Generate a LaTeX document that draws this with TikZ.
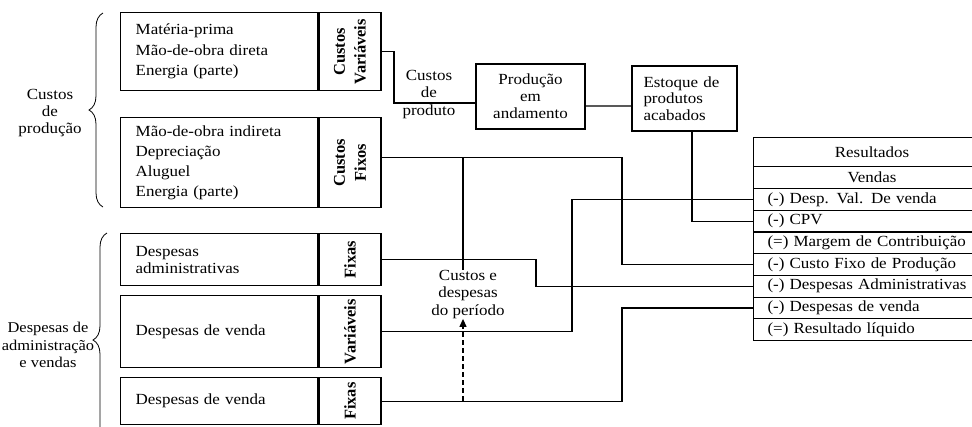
\documentclass[tikz,border=0pt]{standalone}
\usepackage{fontspec}
\setmainfont{Liberation Serif}[FakeStretch=1.1]
\newfontfamily\rotfont{Liberation Serif}
\usetikzlibrary{decorations.pathreplacing,arrows.meta,calc}
\begin{document}
\begin{tikzpicture}[x=1bp,y=-1bp,
  every node/.style={font=\fontsize{15.5}{20}\selectfont, inner sep=0pt},
  box/.style={draw, line width=1.3bp, anchor=north west},
  txtbox/.style={box, text width=167bp, inner xsep=15bp, align=left},
  colbox/.style={box, minimum width=62bp},
  vlab/.style={rotate=90, align=center, font=\rotfont\bfseries\fontsize{16.5}{21}\selectfont},
  lbl/.style={align=center, font=\fontsize{15.5}{17.5}\selectfont},
  row/.style={draw, line width=1.1bp, anchor=north west, minimum width=237bp, text width=209bp, inner xsep=14bp, minimum height=21.7bp, align=left},
  crow/.style={row, align=center},
  conn/.style={line width=1.2bp},
  br/.style={decorate, decoration={brace, amplitude=14bp}, line width=0.8bp}
]
\useasboundingbox (0,0) rectangle (972,426);
\clip (0,0) rectangle (972,426);

% production cost boxes
\node[txtbox, minimum height=78bp, font=\fontsize{15.5}{20.5}\selectfont] (b1) at (120,12) {Matéria-prima\\Mão-de-obra direta\\Energia (parte)};
\node[colbox, minimum height=78bp] (b1c) at (b1.north east) {};
\node[vlab] (v1) at (b1c) {Custos\\Variáveis};

\node[txtbox, minimum height=90bp] (b2) at (120,117) {Mão-de-obra indireta\\Depreciação\\Aluguel\\Energia (parte)};
\node[colbox, minimum height=90bp] (b2c) at (b2.north east) {};
\node[vlab] (v2) at (b2c) {Custos\\Fixos};

% expense boxes
\node[txtbox, minimum height=52bp, font=\fontsize{15.5}{17}\selectfont] (b3) at (120,233) {Despesas\\administrativas};
\node[colbox, minimum height=52bp] (b3c) at (b3.north east) {};
\node[vlab] (v3) at (b3c) {Fixas};

\node[txtbox, minimum height=72bp] (b4) at (120,295) {Despesas de venda};
\node[colbox, minimum height=72bp] (b4c) at (b4.north east) {};
\node[vlab] (v4) at (b4c) {Variáveis};

\node[txtbox, minimum height=47bp] (b5) at (120,377) {Despesas de venda};
\node[colbox, minimum height=47bp] (b5c) at (b5.north east) {};
\node[vlab] (v5) at (b5c) {Fixas};

% braces and group labels
\draw[br] (103,207) -- (103,13);
\draw[br] (107,447) -- (107,233);
\node[lbl] (lcp) at (50,113) {Custos\\de\\produção};
\node[lbl, font=\fontsize{15}{17.5}\selectfont] (lda) at (48,345) {Despesas de\\administração\\e vendas};

% production flow
\node[draw, line width=1.3bp, minimum width=109bp, minimum height=65bp, align=center, font=\fontsize{15.5}{17}\selectfont] (prod) at (530.5,96.5) {Produção\\em\\andamento};
\node[draw, line width=1.3bp, minimum width=105bp, minimum height=65bp, text width=82bp, inner xsep=11.5bp, align=left, font=\fontsize{15.5}{16.5}\selectfont] (est) at (684.5,98.5) {Estoque de\\produtos\\acabados};
\node[lbl] (cprod) at (429,94.5) {Custos\\de\\produto};
\node[lbl] (cdp) at (468,294.5) {Custos e\\despesas\\do período};

% results table
\node[crow, minimum height=29bp] (tr) at (753,137) {Resultados};
\node[crow, minimum height=22bp] (tv) at (753,166) {Vendas};
\node[row] (dval) at (753,188) {(-) Desp. Val. De venda};
\node[row] (cpv) at (753,209.7) {(-) CPV};
\node[row] (mc) at (753,231.4) {(=) Margem de Contribuição};
\node[row] (cfp) at (753,253.1) {(-) Custo Fixo de Produção};
\node[row] (dadm) at (753,274.8) {(-) Despesas Administrativas};
\node[row] (dven) at (753,296.5) {(-) Despesas de venda};
\node[row] (rl) at (753,318.2) {(=) Resultado líquido};

% connectors
\coordinate (k1) at (394,60);
\draw[conn] (b1c.east) -| (k1) |- ([yshift=-6.5bp]prod.west);
\draw[conn] ([yshift=-9.5bp]prod.east) -- ([yshift=-7.5bp]est.west);
\draw[conn] ([xshift=7.5bp]est.south) |- (cpv.west);

\coordinate (k2) at (622,200);
\draw[conn] ([yshift=5bp]b2c.east) -| (k2) |- (cfp.west);
\coordinate (j1) at (463,157);
\draw[conn] (j1) -- (j1 |- cdp.north);

\coordinate (k3) at (536,270);
\draw[conn] (b3c.east) -| (k3) |- (dadm.west);

\coordinate (k4) at (572,260);
\draw[conn] (b4c.east) -| (k4) |- (dval.west);

\coordinate (k5) at (622,350);
\draw[conn] (b5c.east) -| (k5) |- (dven.west);

\coordinate (j5) at (463,400.5);
\draw[conn, dash pattern=on 5bp off 3bp, -{Triangle[length=8bp,width=7bp]}] (j5) -- (j5 |- cdp.south);
\end{tikzpicture}
\end{document}
